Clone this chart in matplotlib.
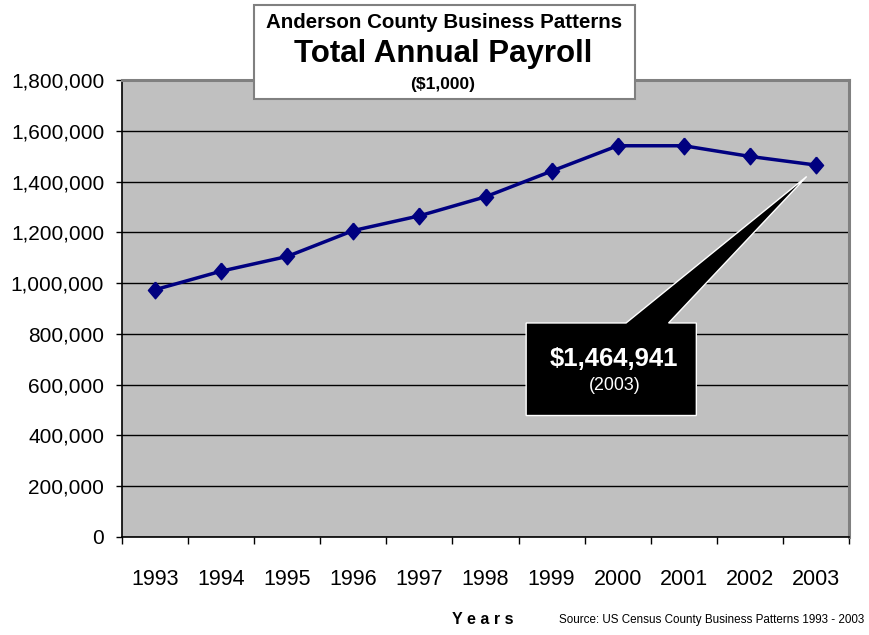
import matplotlib
matplotlib.use("Agg")
import matplotlib.pyplot as plt
from matplotlib.patches import Rectangle, Polygon
from matplotlib.ticker import FuncFormatter, MultipleLocator, FixedLocator

plt.rcParams['font.family'] = ['Liberation Sans', 'DejaVu Sans']

years = ['1993', '1994', '1995', '1996', '1997', '1998', '1999', '2000', '2001', '2002', '2003']
payroll = [974000, 1047000, 1105000, 1207000, 1265000, 1340000, 1441000, 1541000, 1541000, 1499000, 1464941]

W, H = 869, 635
fig = plt.figure(figsize=(W / 100, H / 100), dpi=100)

def fx(px):
    return px / W

def fy(py):
    return 1 - py / H

# plot area
ax = fig.add_axes([fx(122), fy(537), fx(849) - fx(122), fy(80) - fy(537)])
ax.set_facecolor('#c0c0c0')
x = list(range(len(years)))

ax.set_xlim(-0.5, len(years) - 0.5)
ax.set_ylim(0, 1800000)
ax.yaxis.set_major_locator(MultipleLocator(200000))
ax.yaxis.set_major_formatter(FuncFormatter(lambda v, p: f"{int(v):,}"))
ax.grid(axis='y', color='black', linewidth=1.0, zorder=1)
ax.set_axisbelow(True)

ax.set_xticks(x)
ax.set_xticklabels(years)
ax.xaxis.set_minor_locator(FixedLocator([i - 0.5 for i in range(len(years) + 1)]))
ax.tick_params(axis='x', which='major', length=0, pad=23, labelsize=15.5)
ax.tick_params(axis='x', which='minor', length=5, width=1, direction='out', color='black')
ax.tick_params(axis='y', length=4.3, width=1, pad=8.5, labelsize=15, color='black')

for side in ('left', 'bottom'):
    ax.spines[side].set_color('black')
    ax.spines[side].set_linewidth(1.2)
for side in ('top', 'right'):
    ax.spines[side].set_color('#808080')
    ax.spines[side].set_linewidth(2.2)

# diamond marker, a little taller than wide
diamond = [(0, 1), (0.85, 0), (0, -1), (-0.85, 0), (0, 1)]
ax.plot(x, payroll, color='#000080', linewidth=2.5, marker=diamond, markersize=12,
        markerfacecolor='#000080', markeredgecolor='#000080', zorder=5, clip_on=False)

# callout for the last year
bx0, bx1, by0, by1 = 5.615, 8.19, 478500, 843000
tip = (9.86, 1420000)
callout = Polygon([(bx0, by1), (7.127, by1), tip, (7.77, by1), (bx1, by1),
                   (bx1, by0), (bx0, by0)], closed=True,
                  facecolor='black', edgecolor='white', linewidth=1.0, zorder=3)
ax.add_patch(callout)
ax.text(6.95, 702000, f"${payroll[-1]:,}", color='white', fontsize=18.5,
        fontweight='bold', ha='center', va='center', zorder=4)
ax.text(6.95, 596000, f"({years[-1]})", color='white', fontsize=12.8,
        ha='center', va='center', zorder=4)

# title box
fig.add_artist(Rectangle((fx(254), fy(99)), fx(635) - fx(254), fy(5) - fy(99),
                         transform=fig.transFigure, facecolor='white',
                         edgecolor='#808080', linewidth=1.5, zorder=10))
fig.text(fx(444), fy(23), "Anderson County Business Patterns", fontsize=14.8,
         fontweight='bold', ha='center', va='center', zorder=11)
fig.text(fx(443), fy(54), "Total Annual Payroll", fontsize=22.5,
         fontweight='bold', ha='center', va='center', zorder=11)
fig.text(fx(443), fy(84), "($1,000)", fontsize=12.5,
         fontweight='bold', ha='center', va='center', zorder=11)

fig.text(fx(483), fy(620), "Y e a r s", fontsize=11.5, fontweight='bold',
         ha='center', va='center')
fig.text(fx(864), fy(620), "Source: US Census County Business Patterns 1993 - 2003",
         fontsize=8.4, ha='right', va='center')

fig.savefig("out.png", dpi=100)
